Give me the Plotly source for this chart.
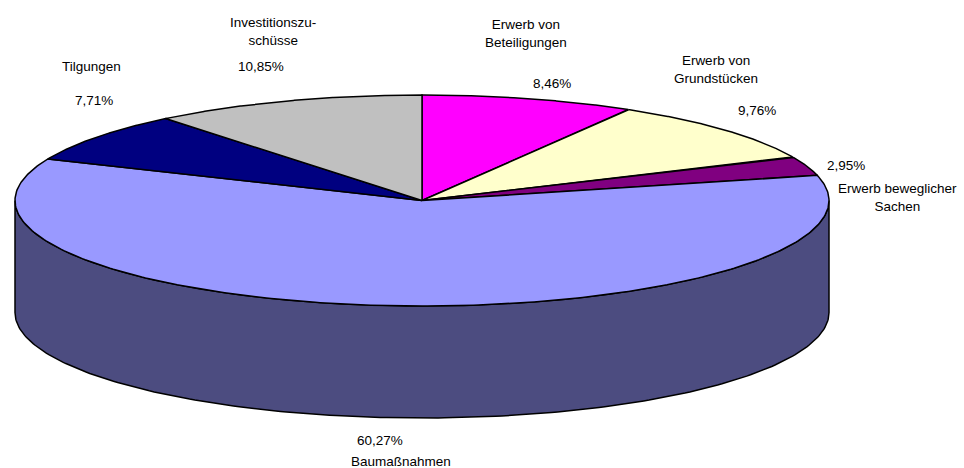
import numpy as np
import plotly.graph_objects as go

# ---- data ----
categories = ["Erwerb von Beteiligungen", "Erwerb von Grundstücken", "Erwerb beweglicher Sachen",
              "Baumaßnahmen", "Tilgungen", "Investitionszuschüsse"]
values = [8.46, 9.76, 2.95, 60.27, 7.71, 10.85]
pct_labels = ["8,46%", "9,76%", "2,95%", "60,27%", "7,71%", "10,85%"]
name_labels = ["Erwerb von<br>Beteiligungen", "Erwerb von<br>Grundstücken", "Erwerb beweglicher<br>Sachen",
               "Baumaßnahmen", "Tilgungen", "Investitionszu-<br>schüsse"]

# ---- styling / geometry ----
top_colors = ["#FF00FF", "#FFFFCC", "#800080", "#9999FF", "#000080", "#C0C0C0"]
side_colors = ["#800080", "#80805F", "#400040", "#4C4C80", "#000040", "#606060"]
W, H = 964, 468
cx, cy, rx, ry, depth = 422, 200.5, 407, 105.5, 112
# label anchor positions (pixel space): name, percent
name_pos = [(526, 33), (716, 69), (897, 197), (401, 461), (91, 66), (273, 31)]
pct_pos = [(552, 83), (757, 110), (846, 165), (380, 440), (94, 100), (261, 66)]
FONT = dict(family="Arial, Liberation Sans, sans-serif", size=13.5, color="#000000")

def ell(theta, dy=0.0):
    return cx + rx * np.sin(theta), cy - ry * np.cos(theta) + dy

total = sum(values)
bounds = np.concatenate([[0], np.cumsum(values)]) / total * 2 * np.pi

fig = go.Figure()

# side walls (only front half, theta in [pi/2, 3pi/2], is visible)
for i in range(len(values)):
    a0 = max(bounds[i], np.pi / 2)
    a1 = min(bounds[i + 1], 3 * np.pi / 2)
    if a1 <= a0:
        continue
    t = np.linspace(a0, a1, 200)
    xt, yt = ell(t)
    xb, yb = ell(t[::-1], depth)
    xs = np.concatenate([xt, xb, xt[:1]])
    ys = np.concatenate([yt, yb, yt[:1]])
    fig.add_trace(go.Scatter(x=xs, y=ys, mode="lines", fill="toself",
                             fillcolor=side_colors[i], line=dict(color="black", width=1.5),
                             hoverinfo="skip", showlegend=False))

# top face slices
for i in range(len(values)):
    t = np.linspace(bounds[i], bounds[i + 1], 300)
    xa, ya = ell(t)
    xs = np.concatenate([[cx], xa, [cx]])
    ys = np.concatenate([[cy], ya, [cy]])
    fig.add_trace(go.Scatter(x=xs, y=ys, mode="lines", fill="toself",
                             fillcolor=top_colors[i], line=dict(color="black", width=1.5),
                             hoverinfo="skip", showlegend=False, name=categories[i]))

for i in range(len(values)):
    fig.add_annotation(x=name_pos[i][0], y=name_pos[i][1], text=name_labels[i], showarrow=False,
                       xref="x", yref="y", xanchor="center", yanchor="middle", align="center",
                       font=FONT)
    fig.add_annotation(x=pct_pos[i][0], y=pct_pos[i][1], text=pct_labels[i], showarrow=False,
                       xref="x", yref="y", xanchor="center", yanchor="middle", align="center",
                       font=FONT)

fig.update_layout(
    width=W, height=H, margin=dict(l=0, r=0, t=0, b=0),
    paper_bgcolor="white", plot_bgcolor="white",
    xaxis=dict(range=[0, W], visible=False, fixedrange=True),
    yaxis=dict(range=[H, 0], visible=False, fixedrange=True),
    showlegend=False,
)

fig.write_html("out.html", config={"displayModeBar": False},
               post_script="document.body.style.margin='0';document.body.style.overflow='hidden';")
